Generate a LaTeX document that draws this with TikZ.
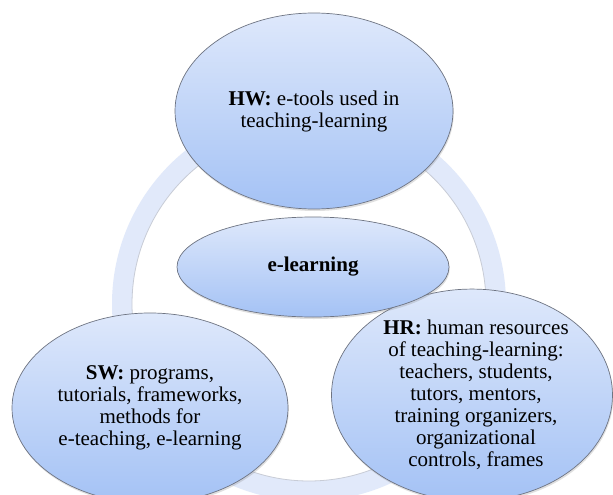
\documentclass[tikz,border=0pt]{standalone}
\usepackage{fontspec}
\setmainfont{LiberationSerif}[Extension=.ttf, UprightFont=*-Regular,
  BoldFont=*-Bold, ItalicFont=*-Italic, BoldItalicFont=*-BoldItalic]
\usetikzlibrary{shapes.geometric,shadows}
\definecolor{ringblue}{RGB}{225,233,250}
\definecolor{ringedge}{RGB}{200,204,214}
\definecolor{toplight}{RGB}{222,232,251}
\definecolor{bottomblue}{RGB}{164,194,245}
\definecolor{rimgray}{RGB}{110,116,130}
\tikzset{
  bubble/.style={ellipse, inner sep=0pt, align=center,
    draw=rimgray, line width=0.7pt,
    top color=toplight, bottom color=bottomblue,
    drop shadow={opacity=0.25, shadow xshift=0.8pt, shadow yshift=-2pt},
    font=\fontsize{21}{22}\selectfont},
}
\begin{document}
\begin{tikzpicture}[x=1pt,y=-1pt]
  \useasboundingbox (0,0) rectangle (613,495);
  \clip (0,0) rectangle (613,495);
  \fill[white] (0,0) rectangle (613,495);
  % cycle ring behind the bubbles
  \draw[ringblue, line width=20pt] (309,304) circle[radius=187pt];
  \draw[ringedge, line width=0.8pt] (309,304) circle[radius=177pt];
  % the three components
  \node[bubble, minimum width=278pt, minimum height=196pt] (HW) at (314,111)
    {\textbf{HW:} e-tools used in\\teaching-learning};
  \node[bubble, minimum width=276pt, minimum height=190pt] (SW) at (150,408)
    {\textbf{SW:} programs,\\tutorials, frameworks,\\methods for\\e-teaching, e-learning};
  \node[bubble, minimum width=281pt, minimum height=198pt] (HR) at (472,395)
    {\hspace*{8pt}\textbf{HR:} human resources\\\hspace*{8pt}of teaching-learning:\\\hspace*{8pt}teachers, students,\\\hspace*{8pt}tutors, mentors,\\\hspace*{8pt}training organizers,\\\hspace*{8pt}organizational\\\hspace*{8pt}controls, frames};
  % centre bubble
  \node[bubble, minimum width=272pt, minimum height=100pt] (EL) at (313,267)
    {\textbf{e-learning}};
\end{tikzpicture}
\end{document}
